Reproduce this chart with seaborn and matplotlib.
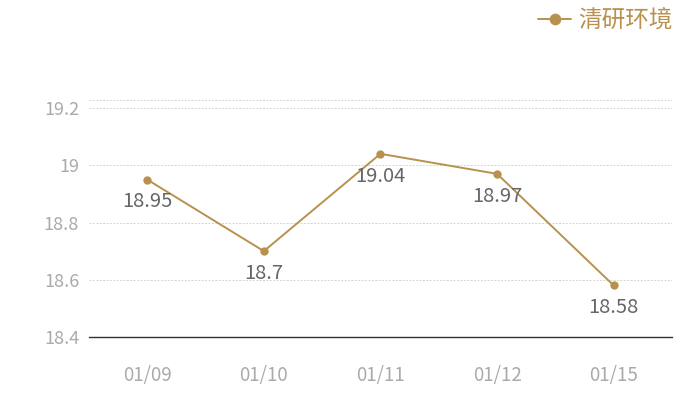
import matplotlib
matplotlib.use('Agg')
import matplotlib.pyplot as plt
import pandas as pd
import seaborn as sns

# Data
dates = ['01/09', '01/10', '01/11', '01/12', '01/15']
values = [18.95, 18.7, 19.04, 18.97, 18.58]
series_name = '清研环境'
y_ticks = [18.4, 18.6, 18.8, 19, 19.2]
y_tick_labels = ['18.4', '18.6', '18.8', '19', '19.2']

df = pd.DataFrame({'date': dates, 'value': values})

sns.set_theme(style='white')
plt.rcParams['font.family'] = ['Noto Sans CJK SC', 'DejaVu Sans']

gold = '#b8914f'

fig = plt.figure(figsize=(7, 4), dpi=100)
ax = fig.add_axes([0.127, 0.1575, 0.833, 0.5925])

sns.lineplot(data=df, x='date', y='value', ax=ax, color=gold, linewidth=1.4,
             marker='o', markersize=6, markeredgewidth=0, label=series_name,
             sort=False)

# value labels below each point
for i, v in enumerate(values):
    ax.annotate(f'{v:g}', (i, v), xytext=(0, -16), textcoords='offset points',
                ha='center', va='center', fontsize=14.5, color='#666666')

ax.set_xlim(-0.5, len(dates) - 0.5)
ax.set_ylim(18.4, 19.228)
ax.set_yticks(y_ticks)
ax.set_yticklabels(y_tick_labels)
ax.grid(axis='y', color='#d4d4d4', linestyle=(0, (2, 1.5)), linewidth=0.7)
ax.axhline(19.228, color='#d4d4d4', linestyle=(0, (2, 1.5)), linewidth=0.7)
ax.set_axisbelow(True)

for side in ['top', 'right', 'left']:
    ax.spines[side].set_visible(False)
ax.spines['bottom'].set_color('#333333')
ax.spines['bottom'].set_linewidth(1)

ax.tick_params(axis='y', length=0, pad=7, labelsize=13, labelcolor='#aaaaaa')
ax.tick_params(axis='x', length=0, pad=20, labelsize=13.5, labelcolor='#aaaaaa')
ax.set_xlabel('')
ax.set_ylabel('')

leg = ax.legend(loc='upper right', bbox_to_anchor=(0.975, 1.0), bbox_transform=fig.transFigure,
                frameon=False, fontsize=17, handlelength=1.4, handletextpad=0.3,
                borderaxespad=0, markerscale=1.4)
for t in leg.get_texts():
    t.set_color(gold)

fig.savefig('out.png', dpi=100)
